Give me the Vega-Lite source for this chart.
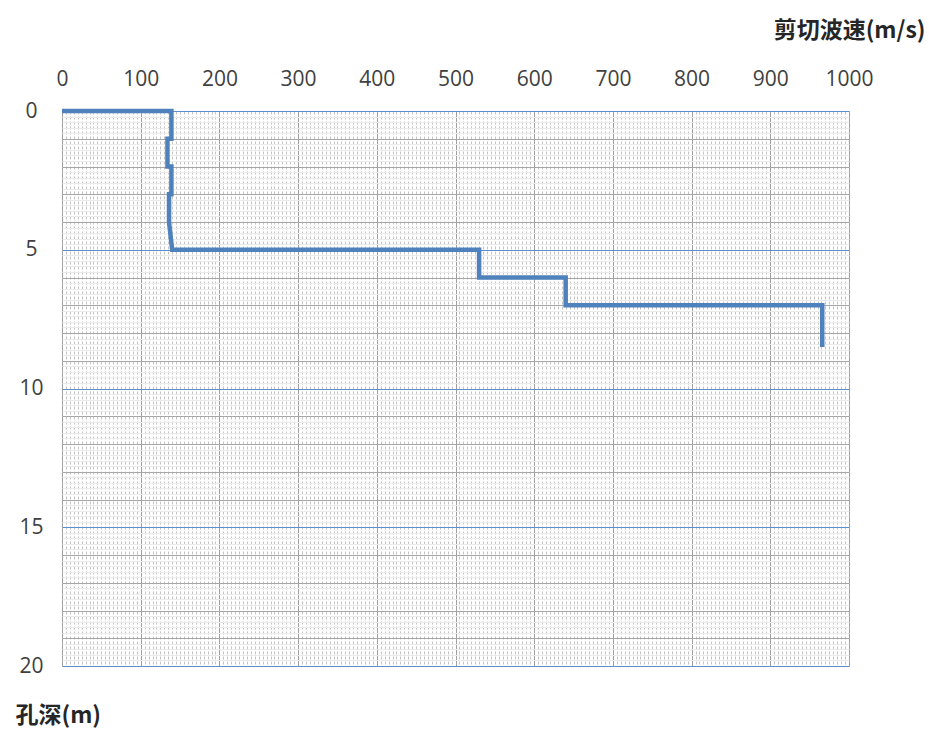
{
  "$schema": "https://vega.github.io/schema/vega-lite/v6.json",
  "width": 787,
  "height": 555,
  "autosize": {"type": "none"},
  "padding": {"left": 62, "top": 111, "right": 80, "bottom": 63},
  "background": "white",
  "config": {"view": {"stroke": null}},
  "data": {"values": [
    {"i": 1, "v": 0, "d": 0},
    {"i": 2, "v": 139, "d": 0},
    {"i": 3, "v": 139, "d": 1},
    {"i": 4, "v": 134, "d": 1},
    {"i": 5, "v": 134, "d": 2},
    {"i": 6, "v": 139, "d": 2},
    {"i": 7, "v": 139, "d": 3},
    {"i": 8, "v": 136, "d": 3},
    {"i": 9, "v": 136, "d": 4},
    {"i": 10, "v": 140, "d": 5},
    {"i": 11, "v": 530, "d": 5},
    {"i": 12, "v": 530, "d": 6},
    {"i": 13, "v": 640, "d": 6},
    {"i": 14, "v": 640, "d": 7},
    {"i": 15, "v": 966, "d": 7},
    {"i": 16, "v": 966, "d": 8.5}
  ]},
  "resolve": {"axis": {"x": "independent", "y": "independent"}},
  "layer": [
    {
      "mark": {"type": "line", "strokeOpacity": 0},
      "encoding": {
        "x": {"field": "v", "type": "quantitative",
          "scale": {"domain": [0, 1000], "nice": false, "zero": false},
          "axis": {"orient": "top", "title": null, "labels": false, "ticks": false, "domain": false,
            "grid": true, "gridColor": "#c4c4c4", "gridWidth": 1, "gridDash": [3, 2],
            "values": [0,5,10,15,20,25,30,35,40,45,50,55,60,65,70,75,80,85,90,95,100,105,110,115,120,125,130,135,140,145,150,155,160,165,170,175,180,185,190,195,200,205,210,215,220,225,230,235,240,245,250,255,260,265,270,275,280,285,290,295,300,305,310,315,320,325,330,335,340,345,350,355,360,365,370,375,380,385,390,395,400,405,410,415,420,425,430,435,440,445,450,455,460,465,470,475,480,485,490,495,500,505,510,515,520,525,530,535,540,545,550,555,560,565,570,575,580,585,590,595,600,605,610,615,620,625,630,635,640,645,650,655,660,665,670,675,680,685,690,695,700,705,710,715,720,725,730,735,740,745,750,755,760,765,770,775,780,785,790,795,800,805,810,815,820,825,830,835,840,845,850,855,860,865,870,875,880,885,890,895,900,905,910,915,920,925,930,935,940,945,950,955,960,965,970,975,980,985,990,995,1000]}},
        "y": {"field": "d", "type": "quantitative",
          "scale": {"domain": [0, 20], "reverse": true, "nice": false},
          "axis": {"orient": "left", "title": null, "labels": false, "ticks": false, "domain": false,
            "grid": true, "gridColor": "#ebebeb", "gridWidth": 1,
            "values": [0,0.2,0.4,0.6,0.8,1,1.2,1.4,1.6,1.8,2,2.2,2.4,2.6,2.8,3,3.2,3.4,3.6,3.8,4,4.2,4.4,4.6,4.8,5,5.2,5.4,5.6,5.8,6,6.2,6.4,6.6,6.8,7,7.2,7.4,7.6,7.8,8,8.2,8.4,8.6,8.8,9,9.2,9.4,9.6,9.8,10,10.2,10.4,10.6,10.8,11,11.2,11.4,11.6,11.8,12,12.2,12.4,12.6,12.8,13,13.2,13.4,13.6,13.8,14,14.2,14.4,14.6,14.8,15,15.2,15.4,15.6,15.8,16,16.2,16.4,16.6,16.8,17,17.2,17.4,17.6,17.8,18,18.2,18.4,18.6,18.8,19,19.2,19.4,19.6,19.8,20]}},
        "order": {"field": "i", "type": "quantitative"}
      }
    },
    {
      "mark": {"type": "line", "strokeOpacity": 0},
      "encoding": {
        "x": {"field": "v", "type": "quantitative",
          "axis": {"orient": "top", "title": null, "labels": false, "ticks": false, "domain": false,
            "grid": true, "gridColor": "#a0a0a0", "gridWidth": 1,
            "values": [0,100,200,300,400,500,600,700,800,900,1000]}},
        "y": {"field": "d", "type": "quantitative",
          "axis": {"orient": "left", "title": null, "labels": false, "ticks": false, "domain": false,
            "grid": true, "gridColor": "#a6a6a6", "gridWidth": 1,
            "values": [0,1,2,3,4,5,6,7,8,9,10,11,12,13,14,15,16,17,18,19,20]}},
        "order": {"field": "i", "type": "quantitative"}
      }
    },
    {
      "mark": {"type": "line", "color": "#4f81bd", "strokeWidth": 4.5, "strokeJoin": "miter", "strokeCap": "butt"},
      "encoding": {
        "x": {"field": "v", "type": "quantitative",
          "axis": {"orient": "top", "title": "剪切波速(m/s)", "grid": false, "ticks": false, "domain": false,
            "values": [0,100,200,300,400,500,600,700,800,900,1000], "format": "d",
            "labelFont": "Open Sans", "labelFontSize": 21, "labelColor": "#404040", "labelPadding": 22,
            "labelFlush": false,
            "titleFont": "Noto Sans CJK SC", "titleFontSize": 23, "titleFontWeight": "bold", "titleColor": "#262626",
            "titleAlign": "right", "titleAnchor": null, "titleX": 863, "titleY": -81, "titleBaseline": "middle"}},
        "y": {"field": "d", "type": "quantitative",
          "axis": {"orient": "left", "title": "孔深(m)", "ticks": false, "domain": false,
            "grid": true, "gridColor": "#5b8fd0", "gridWidth": 1,
            "values": [0,5,10,15,20], "format": "d",
            "labelFont": "Open Sans", "labelFontSize": 21, "labelColor": "#404040", "labelPadding": 31,
            "labelAlign": "center", "labelBaseline": "middle", "labelFlush": false,
            "titleFont": "Noto Sans CJK SC", "titleFontSize": 23, "titleFontWeight": "bold", "titleColor": "#262626",
            "titleAngle": 0, "titleAlign": "left", "titleAnchor": null, "titleX": -47, "titleY": 604, "titleBaseline": "middle"}},
        "order": {"field": "i", "type": "quantitative"}
      }
    }
  ]
}
